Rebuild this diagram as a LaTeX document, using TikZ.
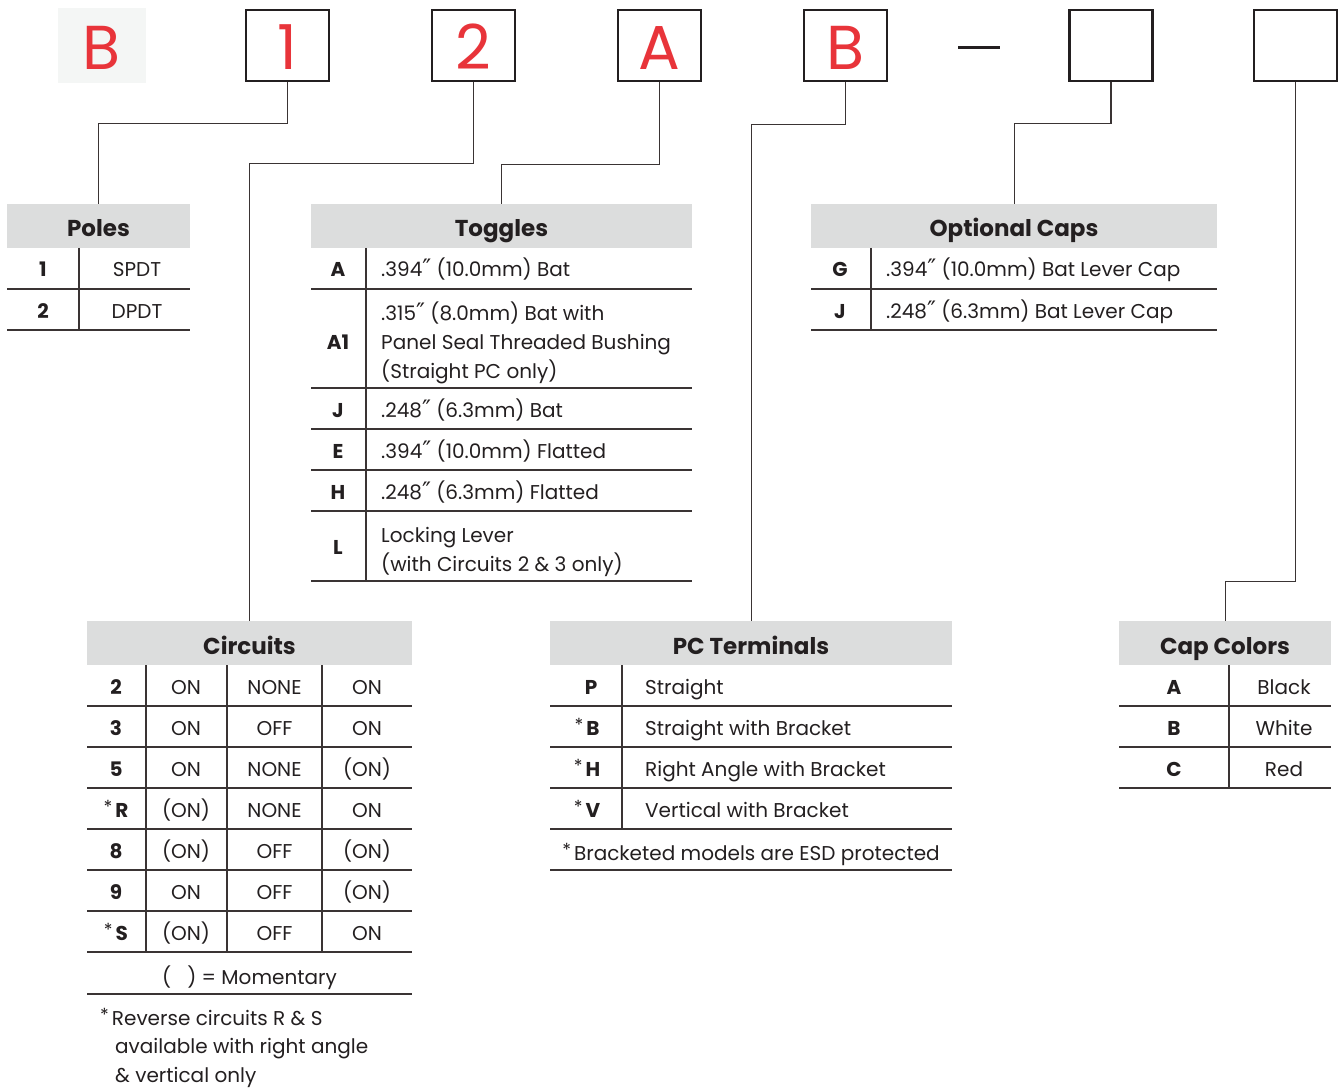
\documentclass[tikz,border=0pt]{standalone}
\usepackage{fontspec}
\setmainfont{Poppins}
\newfontfamily\dvfont{DejaVu Sans}
\definecolor{codered}{RGB}{232,52,58}
\definecolor{hdrgray}{RGB}{220,221,221}
\definecolor{ink}{RGB}{35,31,32}
\definecolor{rulec}{RGB}{58,52,52}
\definecolor{bgB}{RGB}{244,246,245}
\newcommand{\fnast}{\raisebox{0.2em}{\fontsize{18}{18}\selectfont\mdseries *}\hspace{3pt}}
\newcommand{\inch}{{\dvfont\fontsize{24}{24}\selectfont ″}}
\begin{document}
\begin{tikzpicture}[x=1pt,y=-1pt,
  hdr/.style={fill=hdrgray, inner sep=0pt, minimum height=44pt, anchor=north west, text=ink, font=\fontsize{23}{23}\selectfont\bfseries},
  htext/.style={text=ink, inner sep=0pt, anchor=base, font=\fontsize{23}{23}\selectfont\bfseries},
  txt/.style={text=ink, inner sep=0pt, anchor=base, font=\fontsize{20}{24}\selectfont},
  ltxt/.style={txt, anchor=base west},
  key/.style={txt, font=\fontsize{20}{24}\selectfont\bfseries},
  rule/.style={line width=1.4pt, draw=rulec},
  conn/.style={line width=1.3pt, draw=rulec},
  codebox/.style={draw=ink, line width=2.8pt, minimum width=83pt, minimum height=71pt, inner sep=0pt},
  codetxt/.style={text=codered, inner sep=0pt, anchor=base, font=\fontsize{62}{62}\selectfont}
]
\useasboundingbox (0,0) rectangle (1341,1091);

% ---------- top code boxes ----------
\node[fill=bgB, minimum width=88pt, minimum height=75pt, inner sep=0pt] (b0) at (102,45.5) {};
\node[codetxt] (t0) at (102,70) {B};
\node[codebox] (b1) at (287.5,45.5) {};
\node[codetxt] (t1) at (287.5,70) {1};
\node[codebox] (b2) at (473.5,45.5) {};
\node[codetxt] (t2) at (473.5,70) {2};
\node[codebox] (b3) at (659.5,45.5) {};
\node[codetxt] (t3) at (659.5,70) {A};
\node[codebox] (b4) at (845.5,45.5) {};
\node[codetxt] (t4) at (845.5,70) {B};
\draw[line width=3pt, draw=ink] (958,48) -- (1000,48);
\node[codebox] (b5) at (1111,45.5) {};
\node[codebox] (b6) at (1295.5,45.5) {};

% ---------- headers ----------
\node[hdr, minimum width=183pt] (polesH) at (7,204) {};
\node[htext] (polesT) at (98.5,237) {Poles};
\node[hdr, minimum width=381pt] (togH) at (311,204) {};
\node[htext] (togT) at (501.5,237) {Toggles};
\node[hdr, minimum width=406pt] (optH) at (811,204) {};
\node[htext] (optT) at (1014,237) {Optional Caps};
\node[hdr, minimum width=325pt] (circH) at (87,621) {};
\node[htext] (circT) at (249.5,654) {Circuits};
\node[hdr, minimum width=402pt] (pcH) at (550,621) {};
\node[htext] (pcT) at (751,654) {PC Terminals};
\node[hdr, minimum width=212pt] (capH) at (1119,621) {};
\node[htext] (capT) at (1225,654) {Cap Colors};

% ---------- connectors ----------
\draw[conn] (b1.south) -- ++(0,41) -| (polesH.north);
\draw[conn] (b2.south) -- ++(0,81) -| (circH.north);
\draw[conn] (b3.south) -- ++(0,82) -| (togH.north);
\draw[conn] (b4.south) -- ++(0,42) -| (pcH.north);
\draw[conn] (b5.south) -- ++(0,41) -| (optH.north);
\draw[conn] (b6.south) -- ++(0,499) -| (capH.north);

% ---------- Poles ----------
\draw[rule] (7,289) -- (190,289);
\draw[rule] (7,330) -- (190,330);
\draw[rule] (79,248) -- (79,330);
\node[key] (p1k) at (43,277) {1};
\node[txt] (p1v) at (137,277) {SPDT};
\node[key] (p2k) at (43,318) {2};
\node[txt] (p2v) at (137,318) {DPDT};

% ---------- Toggles ----------
\foreach \yy in {289,388,429,470,511,581} \draw[rule] (311,\yy) -- (692,\yy);
\draw[rule] (366,248) -- (366,581);
\node[key] (tAk) at (338,277) {A};
\node[ltxt] (tAv) at (381,277) {.394\inch\ (10.0mm) Bat};
\node[key] (tA1k) at (338,349) {A1};
\node[ltxt] (tA1a) at (381,320) {.315\inch\ (8.0mm) Bat with};
\node[ltxt] (tA1b) at (381,349) {Panel Seal Threaded Bushing};
\node[ltxt] (tA1c) at (381,378) {(Straight PC only)};
\node[key] (tJk) at (338,417) {J};
\node[ltxt] (tJv) at (381,417) {.248\inch\ (6.3mm) Bat};
\node[key] (tEk) at (338,458) {E};
\node[ltxt] (tEv) at (381,458) {.394\inch\ (10.0mm) Flatted};
\node[key] (tHk) at (338,499) {H};
\node[ltxt] (tHv) at (381,499) {.248\inch\ (6.3mm) Flatted};
\node[key] (tLk) at (338,554) {L};
\node[ltxt] (tLa) at (381,542) {Locking Lever};
\node[ltxt] (tLb) at (381,571) {(with Circuits 2 \& 3 only)};

% ---------- Optional Caps ----------
\draw[rule] (811,289) -- (1217,289);
\draw[rule] (811,330) -- (1217,330);
\draw[rule] (871,248) -- (871,330);
\node[key] (oGk) at (840,277) {G};
\node[ltxt] (oGv) at (886,277) {.394\inch\ (10.0mm) Bat Lever Cap};
\node[key] (oJk) at (840,318) {J};
\node[ltxt] (oJv) at (886,318) {.248\inch\ (6.3mm) Bat Lever Cap};

% ---------- Circuits ----------
\foreach \yy in {706,747,788,829,870,911,994} \draw[rule] (87,\yy) -- (412,\yy);
\draw[line width=2pt, draw=rulec] (87,952) -- (412,952);
\foreach \xx in {146,227,322} \draw[rule] (\xx,665) -- (\xx,952);
\foreach \k/\a/\b/\c [count=\i] in {2/ON/NONE/ON, 3/ON/OFF/ON, 5/ON/NONE/(ON), {\fnast R}/(ON)/NONE/ON, 8/(ON)/OFF/(ON), 9/ON/OFF/(ON), {\fnast S}/(ON)/OFF/ON}{
  \node[key] (ck\i) at (116,{665+41*(\i-1)+29}) {\k};
  \node[txt] (ca\i) at (186,{665+41*(\i-1)+29}) {\a};
  \node[txt] (cb\i) at (274.5,{665+41*(\i-1)+29}) {\b};
  \node[txt] (cc\i) at (367,{665+41*(\i-1)+29}) {\c};
}
\node[txt] (cmom) at (249.5,984) {(\hspace{16pt}) = Momentary};
\node[ltxt] (cf1) at (100,1025) {\fnast Reverse circuits R \& S};
\node[ltxt] (cf2) at (115,1053) {available with right angle};
\node[ltxt] (cf3) at (115,1082) {\& vertical only};

% ---------- PC Terminals ----------
\foreach \yy in {706,747,788,829,870} \draw[rule] (550,\yy) -- (952,\yy);
\draw[rule] (622,665) -- (622,829);
\node[key] (pPk) at (591,694) {P};
\node[key] (pBk) at (587,735) {\fnast B};
\node[key] (pHk) at (587,776) {\fnast H};
\node[key] (pVk) at (587,817) {\fnast V};
\node[ltxt] (pPv) at (645,694) {Straight};
\node[ltxt] (pBv) at (645,735) {Straight with Bracket};
\node[ltxt] (pHv) at (645,776) {Right Angle with Bracket};
\node[ltxt] (pVv) at (645,817) {Vertical with Bracket};
\node[txt] (pfoot) at (751,860) {\fnast Bracketed models are ESD protected};

% ---------- Cap Colors ----------
\foreach \yy in {706,747,788} \draw[rule] (1119,\yy) -- (1331,\yy);
\draw[rule] (1229,665) -- (1229,788);
\node[key] (kAk) at (1174,694) {A};
\node[txt] (kAv) at (1284,694) {Black};
\node[key] (kBk) at (1174,735) {B};
\node[txt] (kBv) at (1284,735) {White};
\node[key] (kCk) at (1174,776) {C};
\node[txt] (kCv) at (1284,776) {Red};
\end{tikzpicture}
\end{document}
